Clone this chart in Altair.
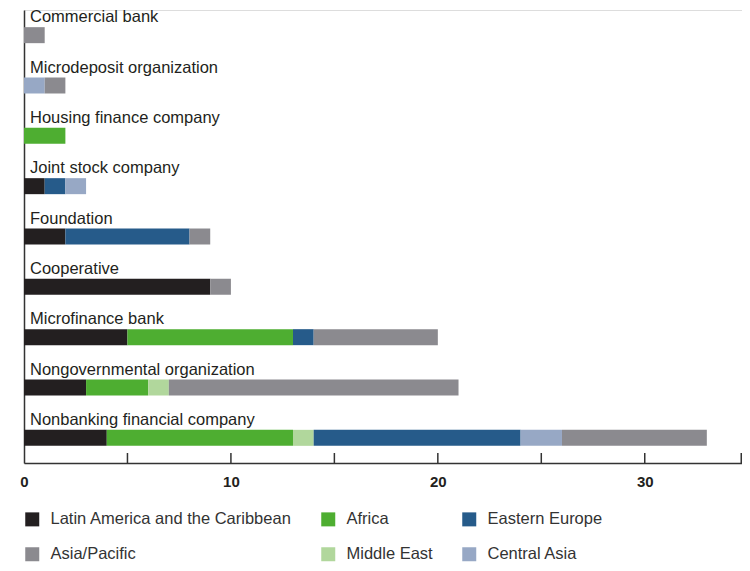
import altair as alt
import pandas as pd

types = [
    "Commercial bank",
    "Microdeposit organization",
    "Housing finance company",
    "Joint stock company",
    "Foundation",
    "Cooperative",
    "Microfinance bank",
    "Nongovernmental organization",
    "Nonbanking financial company",
]

latin_america = [0, 0, 0, 1, 2, 9, 5, 3, 4]
africa = [0, 0, 2, 0, 0, 0, 8, 3, 9]
middle_east = [0, 0, 0, 0, 0, 0, 0, 1, 1]
eastern_europe = [0, 0, 0, 1, 6, 0, 1, 0, 10]
central_asia = [0, 1, 0, 1, 0, 0, 0, 0, 2]
asia_pacific = [1, 1, 0, 0, 1, 1, 6, 14, 7]

stack_regions = [
    "Latin America and the Caribbean",
    "Africa",
    "Middle East",
    "Eastern Europe",
    "Central Asia",
    "Asia/Pacific",
]
series = [latin_america, africa, middle_east, eastern_europe, central_asia, asia_pacific]

legend_regions = [
    "Latin America and the Caribbean",
    "Africa",
    "Eastern Europe",
    "Asia/Pacific",
    "Middle East",
    "Central Asia",
]
legend_colors = ["#231f20", "#4eae31", "#265b8a", "#8b8a8f", "#b1d79c", "#97a8c5"]

tick_values = [0, 5, 10, 15, 20, 25, 30, 35]
x_domain = [0, 34.7]

rows = []
for r_i, (region, vals) in enumerate(zip(stack_regions, series)):
    for t, v in zip(types, vals):
        if v > 0:
            rows.append({"type": t, "region": region, "value": v, "order": r_i})
df = pd.DataFrame(rows)
labels_df = pd.DataFrame({"type": types})
ticks_df = pd.DataFrame({"tick": [t for t in tick_values[1:] if t <= x_domain[1]]})

FONT = "Liberation Sans"
FS = 16.5
W, H = 718, 453

x_scale = alt.Scale(domain=x_domain, nice=False, zero=True)
y_scale = alt.Scale(domain=types, paddingInner=0, paddingOuter=0)

bars = alt.Chart(df).mark_bar(size=16).encode(
    x=alt.X(
        "value:Q",
        stack="zero",
        scale=x_scale,
        axis=alt.Axis(
            values=tick_values[:-1],
            labelExpr="datum.value % 10 === 0 ? datum.label : ''",
            ticks=False,
            grid=False,
            title=None,
            domainColor="#333333",
            domainWidth=1.5,
            labelFont=FONT,
            labelFontSize=15,
            labelFontWeight="bold",
            labelColor="#231f20",
            labelPadding=11,
            labelFlush=False,
        ),
    ),
    y=alt.Y(
        "type:N",
        sort=types,
        scale=y_scale,
        axis=alt.Axis(labels=False, ticks=False, grid=False, title=None,
                      domainColor="#333333", domainWidth=1.5),
    ),
    color=alt.Color(
        "region:N",
        scale=alt.Scale(domain=legend_regions, range=legend_colors),
        legend=alt.Legend(
            title=None,
            orient="none",
            legendX=0,
            legendY=501,
            direction="horizontal",
            columns=3,
            symbolType="square",
            symbolSize=196,
            symbolStrokeWidth=0,
            labelFont=FONT,
            labelFontSize=FS,
            labelColor="#333333",
            labelOffset=10,
            columnPadding=28,
            rowPadding=18,
            labelLimit=400,
        ),
    ),
    order=alt.Order("order:Q"),
)

labels = alt.Chart(labels_df).mark_text(
    align="left", baseline="middle", dx=6, dy=-18,
    font=FONT, fontSize=FS, color="#231f20",
).encode(
    x=alt.value(0),
    y=alt.Y("type:N", sort=types, scale=y_scale),
    text="type:N",
)

ticks = alt.Chart(ticks_df).mark_rule(color="#333333", strokeWidth=1.5).encode(
    x=alt.X("tick:Q", scale=x_scale),
    y=alt.value(H - 10),
    y2=alt.value(H),
)

end_tick = alt.Chart(labels_df.head(1)).mark_rule(color="#333333", strokeWidth=1.5).encode(
    x=alt.value(W - 0.75),
    y=alt.value(H - 10),
    y2=alt.value(H),
)

chart = alt.layer(bars, labels, ticks, end_tick).properties(
    width=W,
    height=H,
    autosize=alt.AutoSizeParams(type="none"),
    padding={"left": 16, "top": 2, "right": 0, "bottom": 100},
).configure_view(stroke="transparent", strokeWidth=0).configure(background="white")

chart.save("out.html", embed_options={"renderer": "svg", "actions": False})
